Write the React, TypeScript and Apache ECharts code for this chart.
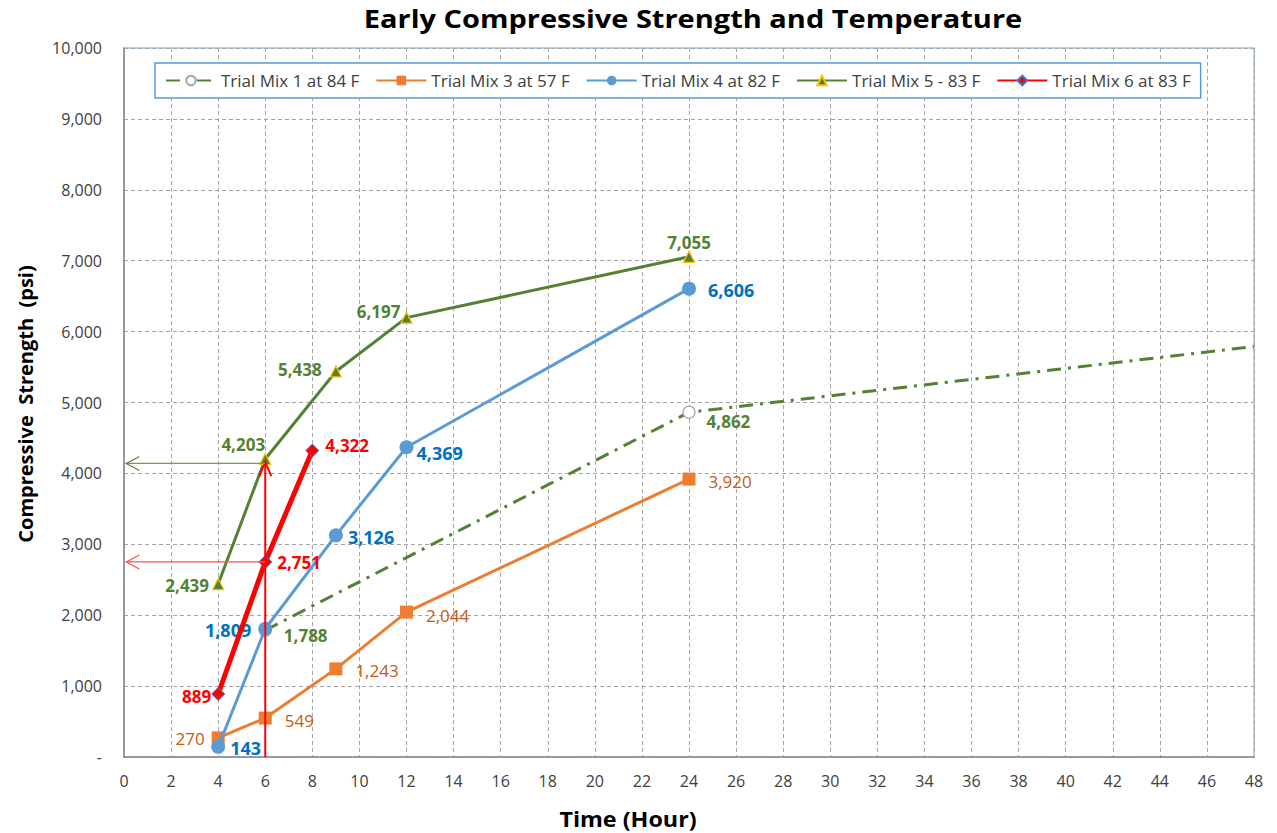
import React, { useEffect, useRef } from "react";
import * as echarts from "echarts";

// ---- data ----
const mix1Hours = [6, 24, 48];
const mix1Psi = [1788, 4862, 5790];
const mix3Hours = [4, 6, 9, 12, 24];
const mix3Psi = [270, 549, 1243, 2044, 3920];
const mix4Hours = [4, 6, 9, 12, 24];
const mix4Psi = [143, 1809, 3126, 4369, 6606];
const mix5Hours = [4, 6, 9, 12, 24];
const mix5Psi = [2439, 4203, 5438, 6197, 7055];
const mix6Hours = [4, 6, 8];
const mix6Psi = [889, 2751, 4322];
const seriesNames = [
  "Trial Mix 1 at 84 F",
  "Trial Mix 3 at 57 F",
  "Trial Mix 4 at 82 F",
  "Trial Mix 5 - 83 F",
  "Trial Mix 6 at 83 F",
];
// annotation arrows: [fromHour, fromPsi, toHour, toPsi]
const arrowVertical = [6, 0, 6, 4160];
const arrowGreen = [6, 4140, 0.1, 4140];
const arrowRed = [6, 2751, 0.1, 2751];

const FONT = "'Open Sans'";

type LP = [string, number, number, number]; // position, distance, dx, dy

function pts(h: number[], v: number[]) {
  return h.map((x, i) => [x, v[i]]);
}

function withLabels(h: number[], v: number[], lp: (LP | null)[], base: any) {
  return pts(h, v).map((p, i) => {
    const l = lp[i];
    if (!l) return { value: p, label: { show: false }, symbol: "none" };
    return {
      value: p,
      label: {
        ...base,
        show: true,
        position: l[0],
        distance: l[1],
        offset: [l[2], l[3]],
      },
    };
  });
}

export default function App() {
  const ref = useRef<HTMLDivElement>(null);
  useEffect(() => {
    if (!ref.current) return;
    const chart = echarts.init(ref.current, undefined, { renderer: "svg" });
    const fmt = (p: any) => Number(p.value[1]).toLocaleString("en-US");
    const green = { color: "#548235", fontWeight: "bold", fontSize: 17, fontFamily: FONT, formatter: fmt };
    const blue = { color: "#0070C0", fontWeight: "bold", fontSize: 18, fontFamily: FONT, formatter: fmt };
    const orange = { color: "#C55A11", fontWeight: "normal", fontSize: 17, fontFamily: FONT, formatter: fmt };
    const red = { color: "#FF0000", fontWeight: "bold", fontSize: 17, fontFamily: FONT, formatter: fmt };

    const arrowRender = (color: string, headColor: string, width: number, headLen: number, headHalf: number) =>
      (params: any, api: any) => {
        const a = api.coord([api.value(0), api.value(1)]);
        const b = api.coord([api.value(2), api.value(3)]);
        const dx = b[0] - a[0];
        const dy = b[1] - a[1];
        const len = Math.sqrt(dx * dx + dy * dy) || 1;
        const ux = dx / len, uy = dy / len;
        const nx = -uy, ny = ux;
        const base = [b[0] - ux * headLen, b[1] - uy * headLen];
        return {
          type: "group",
          children: [
            { type: "line", shape: { x1: a[0], y1: a[1], x2: b[0], y2: b[1] }, style: { stroke: color, lineWidth: width } },
            {
              type: "polyline",
              shape: { points: [[base[0] + nx * headHalf, base[1] + ny * headHalf], b, [base[0] - nx * headHalf, base[1] - ny * headHalf]] },
              style: { stroke: headColor, lineWidth: width, fill: "none" },
            },
          ],
        };
      };

    chart.setOption({
      animation: false,
      backgroundColor: "#ffffff",
      textStyle: { fontFamily: FONT },
      graphic: [
        { type: "text", x: 693, y: 18, scaleX: 1.16, style: { text: "Early Compressive Strength and Temperature", font: `bold 25px ${FONT}`, fill: "#000", textAlign: "center", textVerticalAlign: "middle" } },
        { type: "text", x: 628, y: 818, scaleX: 1.11, style: { text: "Time (Hour)", font: `bold 21px ${FONT}`, fill: "#000", textAlign: "center", textVerticalAlign: "middle" } },
        { type: "text", x: 25, y: 404, rotation: Math.PI / 2, style: { text: "Compressive  Strength  (psi)", font: `bold 20px ${FONT}`, fill: "#000", textAlign: "center", textVerticalAlign: "middle" } },
      ],
      legend: {
        data: seriesNames,
        left: 155,
        top: 63,
        width: 1050,
        padding: [9, 10, 9, 10],
        itemGap: 16,
        itemWidth: 50,
        itemHeight: 12,
        borderColor: "#5B9BD5",
        borderWidth: 1.5,
        backgroundColor: "#ffffff",
        textStyle: { fontSize: 17, color: "#404040", fontFamily: FONT },
      },
      grid: { left: 124, right: 23, top: 48, bottom: 76, show: true, borderColor: "#9DC3E6", borderWidth: 1.5 },
      xAxis: {
        type: "value",
        min: 0,
        max: 48,
        interval: 2,
        axisLine: { show: true, lineStyle: { color: "#8C8C8C", width: 1.5 } },
        axisTick: { show: false },
        axisLabel: { fontSize: 16, color: "#404040", margin: 16, fontFamily: FONT },
        splitLine: { show: true, lineStyle: { color: "#A6A6A6", type: [4, 3], width: 1 } },
      },
      yAxis: {
        type: "value",
        min: 0,
        max: 10000,
        interval: 1000,
        axisLine: { show: true, lineStyle: { color: "#8C8C8C", width: 1.5 } },
        axisTick: { show: false },
        axisLabel: {
          fontSize: 16,
          color: "#404040",
          margin: 22,
          fontFamily: FONT,
          formatter: (v: number) => (v === 0 ? "-" : v.toLocaleString("en-US")),
        },
        splitLine: { show: true, lineStyle: { color: "#A6A6A6", type: [4, 3], width: 1 } },
      },
      series: [
        {
          name: seriesNames[0],
          type: "line",
          data: withLabels(mix1Hours, mix1Psi, [["right", 12, 0, 5], ["right", 11, 0, 9], null], green),
          symbol: "circle",
          symbolSize: 12,
          itemStyle: { color: "#ffffff", borderColor: "#A5A5A5", borderWidth: 1.2 },
          lineStyle: { color: "#548235", width: 3, type: [14, 7, 3, 7] },
          z: 2,
        },
        {
          name: seriesNames[1],
          type: "line",
          data: withLabels(mix3Hours, mix3Psi, [["left", 7, 0, 1], ["right", 13, 0, 2], ["right", 13, 0, 2], ["right", 13, 0, 3], ["right", 13, 0, 2]], orange),
          symbol: "rect",
          symbolSize: 13,
          itemStyle: { color: "#ED7D31" },
          lineStyle: { color: "#ED7D31", width: 3 },
          z: 3,
        },
        {
          name: seriesNames[2],
          type: "line",
          data: withLabels(mix4Hours, mix4Psi, [["right", 5, 0, 1], ["left", 7, 0, 1], ["right", 5, 0, 2], ["right", 3, 0, 6], ["right", 12, 0, 1]], blue),
          symbol: "circle",
          symbolSize: 14,
          itemStyle: { color: "#5B9BD5" },
          lineStyle: { color: "#5B9BD5", width: 3 },
          z: 4,
        },
        {
          name: seriesNames[3],
          type: "line",
          data: withLabels(mix5Hours, mix5Psi, [["left", 3, 0, 1], ["top", 2, -22, 2], ["left", 8, 0, -2], ["left", 0, 0, -6], ["top", 0, 0, 0]], green),
          symbol: "triangle",
          symbolSize: 11,
          itemStyle: { color: "#548235", borderColor: "#FFC000", borderWidth: 1.2 },
          lineStyle: { color: "#548235", width: 3 },
          z: 5,
        },
        {
          name: seriesNames[4],
          type: "line",
          data: withLabels(mix6Hours, mix6Psi, [["left", 0, 0, 3], ["right", 5, 0, 1], ["right", 6, 0, -5]], red),
          symbol: "diamond",
          symbolSize: 13,
          itemStyle: { color: "#FF0000", borderColor: "#4472C4", borderWidth: 1 },
          lineStyle: { color: "#FF0000", width: 5 },
          z: 6,
        },
        {
          type: "custom",
          renderItem: arrowRender("#FF0000", "#FF0000", 2, 14, 6),
          data: [arrowVertical],
          z: 7,
          silent: true,
        },
        {
          type: "custom",
          renderItem: arrowRender("#70A048", "#7F6F3F", 1.3, 13, 7),
          data: [arrowGreen],
          z: 7,
          silent: true,
        },
        {
          type: "custom",
          renderItem: arrowRender("#FF5050", "#FF5050", 1.3, 13, 7),
          data: [arrowRed],
          z: 7,
          silent: true,
        },
      ],
    });
    return () => chart.dispose();
  }, []);
  return <div ref={ref} style={{ position: "absolute", left: 0, top: 0, width: 1277, height: 833 }} />;
}
